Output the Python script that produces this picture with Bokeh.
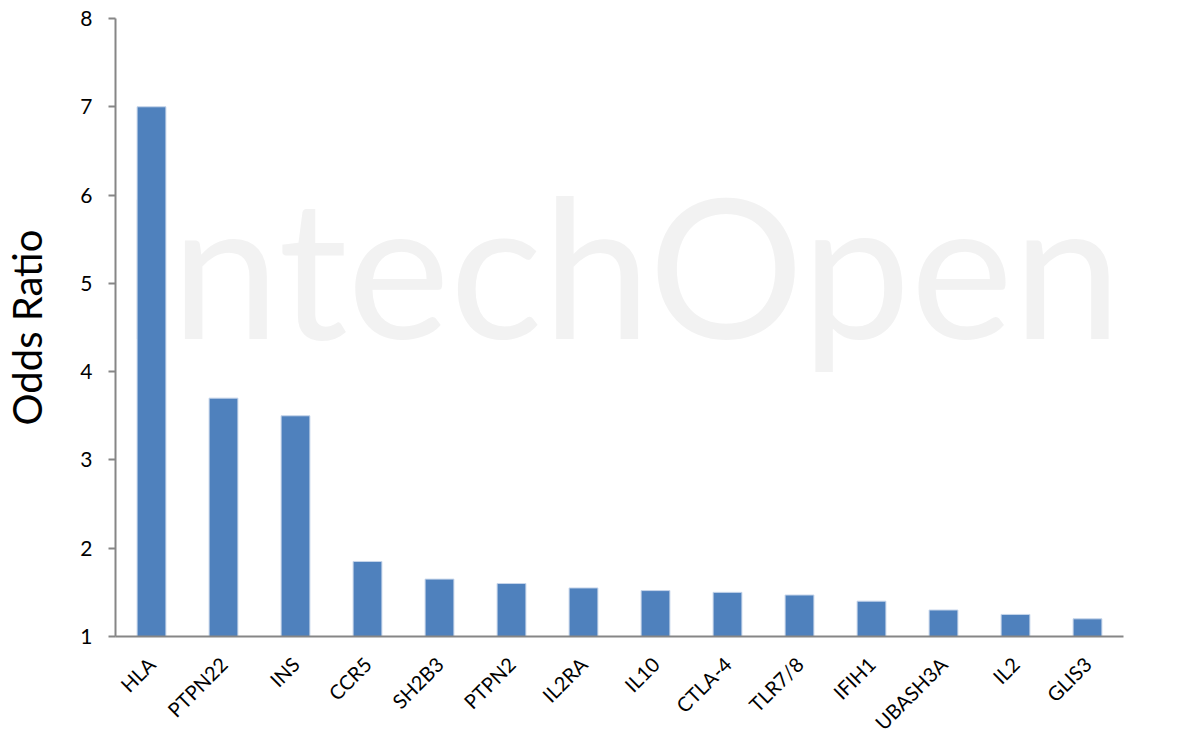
import math
from bokeh.plotting import figure
from bokeh.models import ColumnDataSource, Label
from bokeh.embed import file_html
from bokeh.resources import INLINE

genes = ["HLA", "PTPN22", "INS", "CCR5", "SH2B3", "PTPN2", "IL2RA", "IL10",
         "CTLA-4", "TLR7/8", "IFIH1", "UBASH3A", "IL2", "GLIS3"]
odds_ratio = [7.0, 3.7, 3.5, 1.85, 1.65, 1.6, 1.55, 1.52, 1.5, 1.47, 1.4, 1.3, 1.25, 1.2]
y_ticks = [1, 2, 3, 4, 5, 6, 7, 8]

FONT = "Lato"
AXIS_GRAY = "#868686"

src = ColumnDataSource(dict(gene=genes, odds=odds_ratio))

p = figure(x_range=genes, y_range=(1, 8), frame_width=1008, frame_height=618,
           min_border_left=114, min_border_right=49, min_border_top=18, min_border_bottom=90,
           output_backend="svg", toolbar_location=None, background_fill_color="white",
           border_fill_color="white")
p.outline_line_color = None
p.xgrid.grid_line_color = None
p.ygrid.grid_line_color = None

# faint watermark behind the bars
wm = Label(x=3, y=3.9, x_units="screen", y_units="data", text="IntechOpen",
           text_font=FONT, text_font_size="194px", text_color="#f2f2f2",
           text_baseline="bottom", level="underlay")
p.add_layout(wm)

p.vbar(x="gene", top="odds", bottom=1, width=0.4, source=src,
       fill_color="#4F81BD", line_color="#c6d5ea", line_width=1)

p.yaxis.ticker = y_ticks
p.yaxis.axis_label = "Odds Ratio"
p.yaxis.axis_label_text_font = FONT
p.yaxis.axis_label_text_font_size = "40px"
p.yaxis.axis_label_text_font_style = "normal"
p.yaxis.axis_label_text_color = "black"
p.yaxis.axis_label_standoff = 26
p.yaxis.major_label_text_font = FONT
p.yaxis.major_label_text_font_size = "21px"
p.yaxis.major_label_text_color = "black"
p.yaxis.major_label_standoff = 16
p.yaxis.axis_line_color = AXIS_GRAY
p.yaxis.axis_line_width = 2
p.yaxis.major_tick_line_color = AXIS_GRAY
p.yaxis.major_tick_line_width = 2
p.yaxis.major_tick_out = 7
p.yaxis.major_tick_in = 0
p.yaxis.minor_tick_line_color = None

p.xaxis.axis_line_color = AXIS_GRAY
p.xaxis.axis_line_width = 2
p.xaxis.major_tick_line_color = None
p.xaxis.minor_tick_line_color = None
p.xaxis.major_label_orientation = math.pi / 4
p.xaxis.major_label_text_font = FONT
p.xaxis.major_label_text_font_size = "20px"
p.xaxis.major_label_text_color = "black"
p.xaxis.major_label_standoff = 18
p.x_range.range_padding = 0

open("out.html", "w").write(file_html(p, INLINE))
